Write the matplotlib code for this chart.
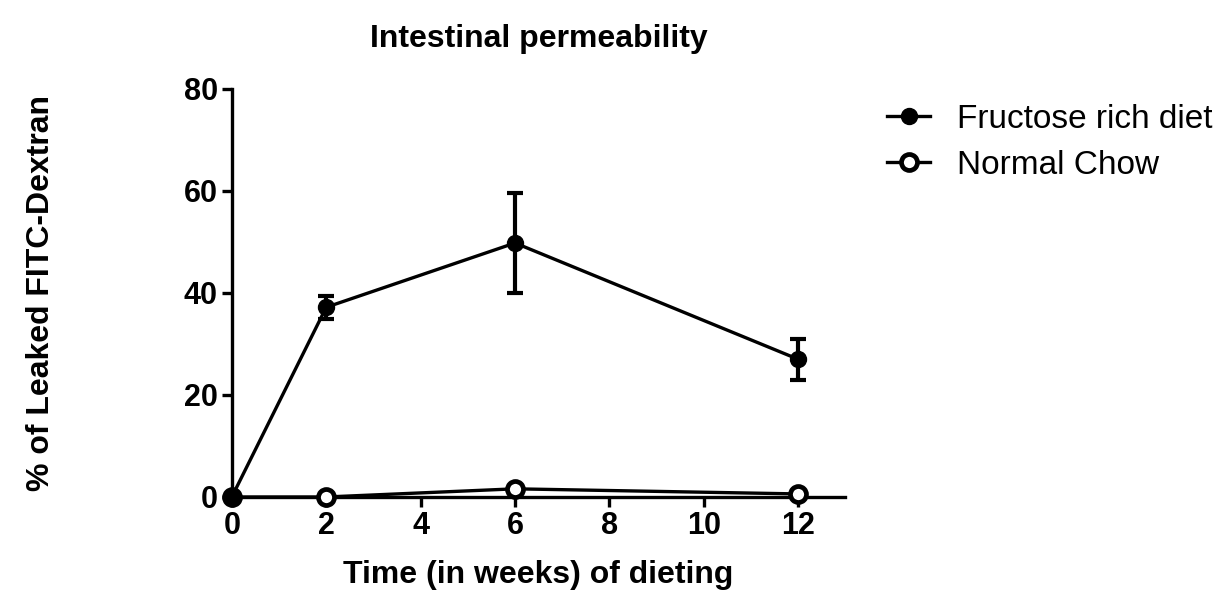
import matplotlib
matplotlib.use("Agg")
import matplotlib.pyplot as plt

plt.rcParams["font.family"] = ["Liberation Sans", "DejaVu Sans"]

weeks = [0, 2, 6, 12]
fructose = [0, 37.2, 49.8, 27.0]
fructose_err = [0, 2.3, 9.9, 4.0]
chow = [0, 0, 1.6, 0.6]
chow_err = [0, 0, 0, 0]

fig = plt.figure(figsize=(12.2, 5.92), dpi=100)
ax = fig.add_axes([0.19, 0.1605, 0.503, 0.6892])

# filled series drawn above the open one so the shared 0-week point stays black
ax.errorbar(weeks, fructose, yerr=fructose_err, color="black", lw=2.4,
            marker="o", ms=11.5, capsize=6, capthick=3, elinewidth=3,
            clip_on=False, zorder=4, label="Fructose rich diet")
ax.errorbar(weeks, chow, yerr=chow_err, color="black", lw=2.4,
            marker="o", ms=11.5, mfc="white", mew=3.4, capsize=0,
            clip_on=False, zorder=3, label="Normal Chow")

ax.set_xlim(0, 13)
ax.set_ylim(0, 80)
ax.set_xticks([0, 2, 4, 6, 8, 10, 12])
ax.set_yticks([0, 20, 40, 60, 80])

for s in ("top", "right"):
    ax.spines[s].set_visible(False)
for s in ("left", "bottom"):
    ax.spines[s].set_linewidth(2.4)
ax.tick_params(width=2.4, length=7, labelsize=22, pad=3)
for lab in ax.get_xticklabels() + ax.get_yticklabels():
    lab.set_fontweight("bold")

ax.set_title("Intestinal permeability", fontsize=23, fontweight="bold", pad=30)
ax.set_xlabel("Time (in weeks) of dieting", fontsize=23, fontweight="bold", labelpad=14)
ax.set_ylabel("% of Leaked FITC-Dextran", fontsize=23, fontweight="bold", labelpad=92)

handles, labels = ax.get_legend_handles_labels()
handles = [h[0] for h in handles]
fig.legend(handles, labels, loc="center left",
           bbox_to_anchor=(887 / 1220, 1 - 142 / 592),
           frameon=False, fontsize=24, handlelength=1.3, handletextpad=0.8,
           labelspacing=0.45, borderpad=0, borderaxespad=0)

fig.savefig("out.png", dpi=100)
